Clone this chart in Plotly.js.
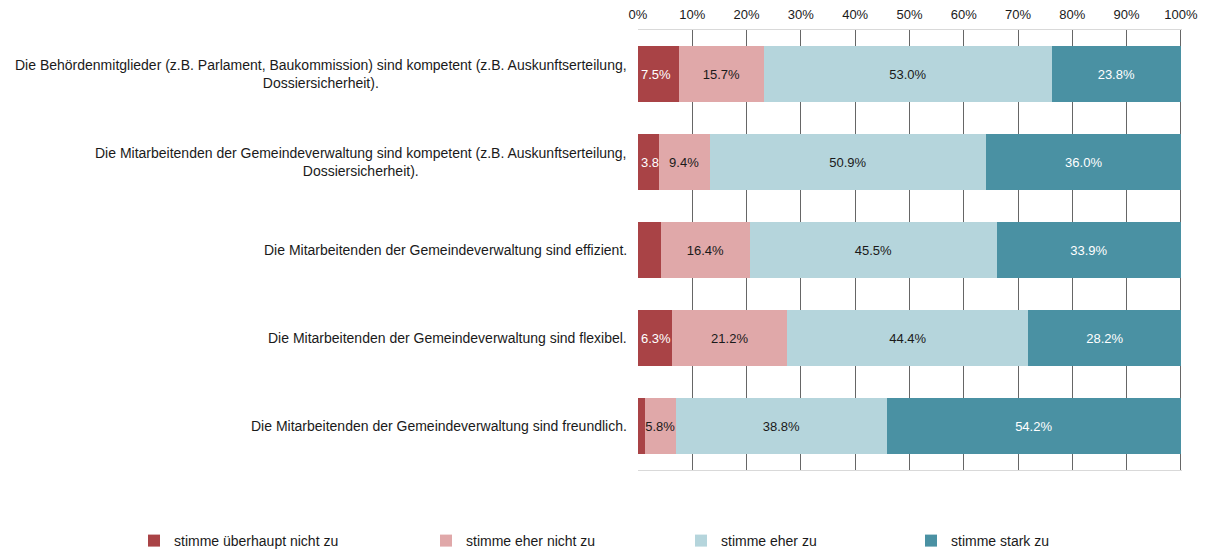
<!DOCTYPE html>
<html><head><meta charset="utf-8">
<script src="https://cdn.plot.ly/plotly-3.0.1.min.js"></script>
<style>html,body{margin:0;padding:0;background:#fff}#chart{width:1205px;height:551px}</style>
</head><body><div id="chart"></div>
<script>
const categories = [
  "Die Behördenmitglieder (z.B. Parlament, Baukommission) sind kompetent (z.B. Auskunftserteilung,<br>Dossiersicherheit).",
  "Die Mitarbeitenden der Gemeindeverwaltung sind kompetent (z.B. Auskunftserteilung,<br>Dossiersicherheit).",
  "Die Mitarbeitenden der Gemeindeverwaltung sind effizient.",
  "Die Mitarbeitenden der Gemeindeverwaltung sind flexibel.",
  "Die Mitarbeitenden der Gemeindeverwaltung sind freundlich."
];
const seriesNames = ["stimme überhaupt nicht zu", "stimme eher nicht zu", "stimme eher zu", "stimme stark zu"];
const ueberhauptNicht = [7.5, 3.8, 4.2, 6.3, 1.2];
const eherNicht = [15.7, 9.4, 16.4, 21.2, 5.8];
const eherZu = [53.0, 50.9, 45.5, 44.4, 38.8];
const stark = [23.8, 36.0, 33.9, 28.2, 54.2];
// which data labels are shown in the original (per series, per category)
const labelShown = [
  [true, true, false, true, false],
  [true, true, true, true, true],
  [true, true, true, true, true],
  [true, true, true, true, true]
];
const tickVals = [0,10,20,30,40,50,60,70,80,90,100];
const tickText = ["0%","10%","20%","30%","40%","50%","60%","70%","80%","90%","100%"];

const colors = ["#A94346", "#E0A8A9", "#B5D5DC", "#4A91A3"];
const textColors = ["#ffffff", "#1a1a1a", "#1a1a1a", "#ffffff"];
const textAnchors = ["start", "middle", "middle", "middle"];
const legendIds = ["legend", "legend2", "legend3", "legend4"];
const legendX = [134, 426, 681, 911];
const allSeries = [ueberhauptNicht, eherNicht, eherZu, stark];
const font = "Liberation Sans, Arial, sans-serif";
const plotL = 638, plotW = 544, plotT = 30, plotH = 440;

const yIdx = categories.map((c, i) => i);
const traces = allSeries.map((vals, s) => ({
  type: "bar", orientation: "h", name: seriesNames[s],
  x: vals, y: yIdx,
  marker: {color: colors[s], line: {width: 0}},
  text: vals.map((v, i) => labelShown[s][i] ? v.toFixed(1) + "%" : ""),
  textposition: "inside", insidetextanchor: textAnchors[s], constraintext: "none", textangle: 0,
  cliponaxis: false,
  textfont: {family: font, size: 13, color: textColors[s]},
  hoverinfo: "skip",
  legend: legendIds[s]
}));

const layout = {
  width: 1205, height: 551,
  margin: {l: plotL, r: 1205 - plotL - plotW, t: plotT, b: 551 - plotT - plotH, pad: 0, autoexpand: false},
  barmode: "stack", bargap: 0.36,
  paper_bgcolor: "#fff", plot_bgcolor: "#fff",
  font: {family: font, size: 13, color: "#1a1a1a"},
  showlegend: true,
  xaxis: {
    side: "top", range: [0, 100.2], tickvals: tickVals, ticktext: tickText,
    showgrid: true, gridcolor: "#666666", gridwidth: 1, zeroline: false,
    showline: true, linecolor: "#d9d9d9", linewidth: 1, mirror: true,
    ticks: "", ticklabelstandoff: 5,
    tickfont: {family: font, size: 13, color: "#1a1a1a"}, fixedrange: true
  },
  yaxis: {
    range: [4.5, -0.5], showticklabels: false, showgrid: false, zeroline: false,
    showline: false, ticks: "", fixedrange: true
  },
  annotations: categories.map((c, i) => ({
    text: c, xref: "paper", yref: "y", x: 0, y: i, xanchor: "right", yanchor: "middle",
    xshift: -9, align: "center", showarrow: false,
    font: {family: font, size: 14, color: "#1a1a1a"}
  }))
};
legendIds.forEach((id, s) => {
  layout[id] = {
    orientation: "h", x: (legendX[s] - plotL) / plotW, xanchor: "left",
    y: -(541 - (plotT + plotH)) / plotH, yanchor: "middle",
    font: {family: font, size: 14, color: "#1a1a1a"}, bgcolor: "rgba(0,0,0,0)",
    itemclick: false, itemdoubleclick: false
  };
});
Plotly.newPlot("chart", traces, layout, {displayModeBar: false, staticPlot: true});
</script></body></html>
